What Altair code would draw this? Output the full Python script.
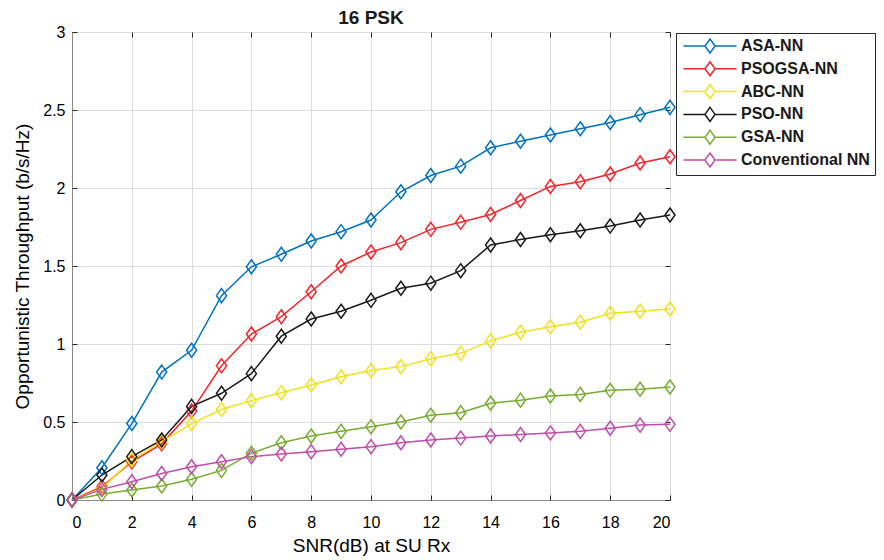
import altair as alt
import pandas as pd

snr = list(range(0, 21))
series = ["ASA-NN", "PSOGSA-NN", "ABC-NN", "PSO-NN", "GSA-NN", "Conventional NN"]
colors = ["#0072BD", "#F5222A", "#F0E21A", "#1A1A1A", "#77AC30", "#BF4DAA"]

asa_nn = [0, 0.207, 0.49, 0.82, 0.96, 1.31, 1.495, 1.575, 1.66, 1.72, 1.795, 1.976, 2.08, 2.14, 2.258, 2.30, 2.34, 2.38, 2.42, 2.47, 2.517]
psogsa_nn = [0, 0.085, 0.245, 0.36, 0.57, 0.86, 1.064, 1.175, 1.335, 1.5, 1.59, 1.65, 1.735, 1.78, 1.83, 1.92, 2.01, 2.04, 2.09, 2.16, 2.20]
abc_nn = [0, 0.075, 0.256, 0.374, 0.49, 0.58, 0.637, 0.688, 0.737, 0.79, 0.83, 0.855, 0.906, 0.94, 1.02, 1.075, 1.11, 1.14, 1.197, 1.21, 1.224]
pso_nn = [0, 0.16, 0.278, 0.385, 0.6, 0.684, 0.81, 1.05, 1.16, 1.21, 1.28, 1.357, 1.39, 1.47, 1.635, 1.67, 1.70, 1.726, 1.756, 1.795, 1.827]
gsa_nn = [0, 0.038, 0.064, 0.09, 0.133, 0.19, 0.30, 0.367, 0.41, 0.44, 0.47, 0.50, 0.543, 0.56, 0.62, 0.64, 0.667, 0.677, 0.703, 0.71, 0.724]
conv_nn = [0, 0.068, 0.117, 0.17, 0.213, 0.245, 0.278, 0.295, 0.31, 0.325, 0.342, 0.367, 0.385, 0.397, 0.41, 0.42, 0.43, 0.44, 0.46, 0.48, 0.485]

x_ticks = list(range(0, 21, 2))
y_ticks = [0, 0.5, 1, 1.5, 2, 2.5, 3]

values = [asa_nn, psogsa_nn, abc_nn, pso_nn, gsa_nn, conv_nn]
rows = []
for name, vals in zip(series, values):
    for s, v in zip(snr, vals):
        rows.append({"SNR": s, "Throughput": v, "Method": name})
df = pd.DataFrame(rows)

W, H = 598, 468
diamond = "M0,-1L0.72,0L0,1L-0.72,0Z"
legend_symbol = "M-3.8,0H-0.72M0.72,0H3.8M0,-1L0.72,0L0,1L-0.72,0Z"

color = alt.Color(
    "Method:N",
    scale=alt.Scale(domain=series, range=colors),
    sort=series,
    legend=alt.Legend(
        title=None,
        orient="none",
        legendX=604,
        legendY=1,
        symbolType=legend_symbol,
        symbolSize=196,
        symbolStrokeWidth=1.5,
        symbolOffset=21,
        labelOffset=23,
        padding=5,
        rowPadding=2.8,
        labelFontSize=16,
        labelFontWeight="bold",
        labelColor="#1a1a1a",
        labelFont="Liberation Sans",
        strokeColor="#262626",
        fillColor="white",
    ),
)

xscale = alt.Scale(domain=[0, 20], nice=False)
yscale = alt.Scale(domain=[0, 3], nice=False)


def tick_axis(vals, orient, offset):
    return alt.Axis(
        values=vals,
        orient=orient,
        offset=offset,
        labels=False,
        title=None,
        grid=False,
        domain=False,
        ticks=True,
        tickSize=5,
        tickColor="#262626",
        tickWidth=1,
    )


x_main = alt.X(
    "SNR:Q",
    scale=xscale,
    axis=alt.Axis(
        values=x_ticks,
        title="SNR(dB) at SU Rx",
        ticks=False,
        tickSize=0,
        labelPadding=14,
        titlePadding=6,
        labelFontSize=16,
        titleFontSize=19,
        titleFontWeight="normal",
        grid=True,
    ),
)
y_main = alt.Y(
    "Throughput:Q",
    scale=yscale,
    axis=alt.Axis(
        values=y_ticks,
        format="~g",
        title="Opportunistic Throughput (b/s/Hz)",
        ticks=False,
        tickSize=0,
        labelPadding=7,
        titlePadding=10,
        labelFontSize=16,
        titleFontSize=19,
        titleFontWeight="normal",
        grid=True,
    ),
)

base = alt.Chart(df)
lines = base.mark_line(strokeWidth=1.5).encode(x=x_main, y=y_main, color=color, detail="Method:N")
points = base.mark_point(shape=diamond, size=196, strokeWidth=1.5, filled=False, opacity=1).encode(
    x=alt.X("SNR:Q", scale=xscale, axis=tick_axis(x_ticks, "top", -H)),
    y=alt.Y("Throughput:Q", scale=yscale, axis=tick_axis(y_ticks, "right", -W)),
    color=color,
)
ghost = base.mark_point(opacity=0, size=1).encode(
    x=alt.X("SNR:Q", scale=xscale, axis=tick_axis(x_ticks, "bottom", -H)),
    y=alt.Y("Throughput:Q", scale=yscale, axis=tick_axis(y_ticks, "left", -W)),
)

chart = (
    alt.layer(lines, points, ghost)
    .resolve_axis(x="independent", y="independent")
    .properties(
        width=W,
        height=H,
        title=alt.TitleParams("16 PSK", fontSize=19, fontWeight="bold", offset=10, dy=14, color="#1a1a1a", font="Liberation Sans"),
        autosize=alt.AutoSizeParams(type="none"),
        padding={"left": 64, "top": 24, "right": 206, "bottom": 60},
    )
    .configure_view(stroke="#262626", strokeWidth=1)
    .configure_axis(
        gridColor="#e3e3e3",
        gridWidth=1,
        domain=False,
        labelColor="#404040",
        titleColor="#404040",
        labelFont="Liberation Sans",
        titleFont="Liberation Sans",
        titleFontWeight="normal",
    )
    .configure(background="white")
)

chart.save("out.html", embed_options={"renderer": "svg", "actions": False})
